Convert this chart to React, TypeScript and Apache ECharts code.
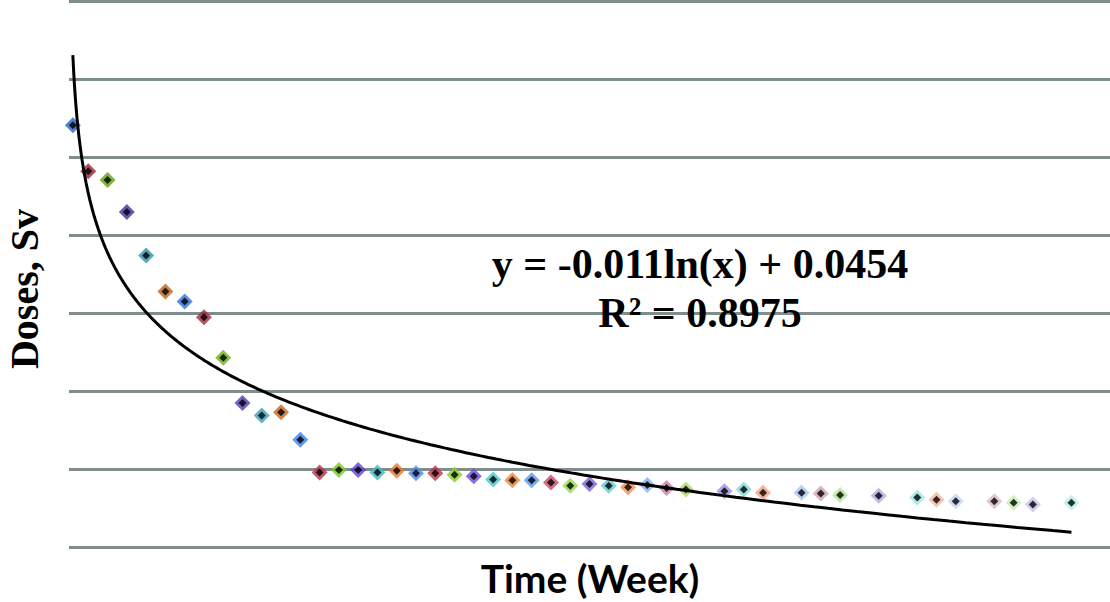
import React, { useEffect, useRef } from "react";
import * as echarts from "echarts";

// ---- Data ----
const weeks: number[] = [
  0.2, 1, 2, 3, 4, 5, 6, 7, 8, 9, 10, 11, 12,
  13, 14, 15, 16, 17, 18, 19, 20, 21, 22, 23, 24,
  25, 26, 27, 28, 29, 30, 31, 32,
  34, 35, 36, 38, 39, 40, 42, 44, 45, 46, 48, 49, 50, 52,
];
const doses: number[] = [
  0.0541, 0.0482, 0.0471, 0.043, 0.0374, 0.0328, 0.0315, 0.0295, 0.0243, 0.0185, 0.0169, 0.0173, 0.0138,
  0.0096, 0.0099, 0.0099, 0.0096, 0.0098, 0.0095, 0.0095, 0.0093, 0.0091, 0.0087, 0.0086, 0.0086,
  0.0083, 0.0079, 0.0081, 0.0079, 0.0077, 0.008, 0.0076, 0.0074,
  0.0072, 0.0074, 0.007, 0.007, 0.0069, 0.0067, 0.0066, 0.0064, 0.0061, 0.0059, 0.0059, 0.0057, 0.0055, 0.0057,
];
const trendSlope = -0.011;
const trendIntercept = 0.0454;
const rSquared = 0.8975;
const yMin = 0;
const yMax = 0.07;
const yStep = 0.01;
const xMin = 0;
const xMax = 54;
const xTitle = "Time (Week)";
const yTitle = "Doses, Sv";

// ---- Styles ----
const pointColors: string[] = [
  "#2e62c8", "#9b2335", "#5fa012", "#4530a0", "#2f95a8", "#c0601a",
  "#2f6fd8", "#a82840", "#6cb01a", "#5538b0", "#34a4b4", "#c8661c",
  "#3a80e8", "#b8304a", "#7cc82a", "#6040d0", "#40b8c4", "#e87828",
  "#4a88ec", "#c03048", "#84d02c", "#6c48dc", "#48c4cc", "#f08030",
  "#5a94f0", "#c84868", "#90d848", "#7c60e0", "#60ccd4", "#f08c50",
  "#84acec", "#c87c9c", "#a4dc68", "#9c8ce0", "#80d8dc", "#f4a084",
  "#a8c4f0", "#d0a0b8", "#b8e494", "#b0a8e4", "#a0e4e4", "#f4b4a0",
  "#c0d4f4", "#dcb8c8", "#c8ecb0", "#c4c0ec", "#b8ecec",
];
const gridColor = "#7f8d8d";
const serifBold = "bold 42px 'Liberation Serif', 'Times New Roman', serif";

export default function App() {
  const ref = useRef<HTMLDivElement>(null);
  useEffect(() => {
    if (!ref.current) return;
    const chart = echarts.init(ref.current, undefined, { renderer: "svg" });

    const wMin = Math.min(...weeks);
    const wMax = Math.max(...weeks);
    const trend: number[][] = [];
    const n = 300;
    for (let i = 0; i <= n; i++) {
      const x = wMin * Math.pow(wMax / wMin, i / n);
      trend.push([x, trendSlope * Math.log(x) + trendIntercept]);
    }

    const eq1 = `y = ${trendSlope}ln(x) + ${trendIntercept}`;
    const eq2 = `R² = ${rSquared}`;

    chart.setOption({
      animation: false,
      backgroundColor: "#ffffff",
      grid: { left: 69, right: 0, top: 1.3, bottom: 54.7, containLabel: false },
      xAxis: {
        type: "value",
        min: xMin,
        max: xMax,
        axisLine: { show: false },
        axisTick: { show: false },
        axisLabel: { show: false },
        splitLine: { show: false },
      },
      yAxis: {
        type: "value",
        min: yMin,
        max: yMax,
        interval: yStep,
        axisLine: { show: false },
        axisTick: { show: false },
        axisLabel: { show: false },
        splitLine: { show: true, lineStyle: { color: gridColor, width: 3 } },
      },
      series: [
        {
          type: "scatter",
          name: "outer",
          symbol: "diamond",
          symbolSize: 16,
          z: 2,
          silent: true,
          data: weeks.map((w, i) => ({
            value: [w, doses[i]],
            itemStyle: { color: pointColors[i % pointColors.length] },
          })),
        },
        {
          type: "scatter",
          name: "inner",
          symbol: "diamond",
          symbolSize: 8,
          z: 3,
          silent: true,
          itemStyle: { color: "#000000" },
          data: weeks.map((w, i) => [w, doses[i]]),
        },
        {
          type: "line",
          name: "trend",
          z: 5,
          silent: true,
          showSymbol: false,
          symbol: "none",
          lineStyle: { color: "#000000", width: 3 },
          data: trend,
        },
      ],
      graphic: [
        {
          type: "text",
          x: 700,
          y: 264,
          z: 10,
          style: {
            text: eq1,
            fill: "#000",
            font: serifBold,
            textAlign: "center",
            textVerticalAlign: "middle",
          },
        },
        {
          type: "text",
          x: 700,
          y: 313,
          z: 10,
          style: {
            text: eq2,
            fill: "#000",
            font: serifBold,
            textAlign: "center",
            textVerticalAlign: "middle",
          },
        },
        {
          type: "text",
          x: 24,
          y: 289,
          rotation: Math.PI / 2,
          z: 10,
          style: {
            text: yTitle,
            fill: "#000",
            font: "bold 40px 'Liberation Serif', 'Times New Roman', serif",
            textAlign: "center",
            textVerticalAlign: "middle",
          },
        },
        {
          type: "text",
          x: 590,
          y: 578,
          z: 10,
          style: {
            text: xTitle,
            fill: "#000",
            font: "bold 39px Lato, 'Open Sans', sans-serif",
            textAlign: "center",
            textVerticalAlign: "middle",
          },
        },
      ],
    });
    return () => chart.dispose();
  }, []);
  return (
    <div
      ref={ref}
      style={{ position: "absolute", left: 0, top: 0, width: 1110, height: 602 }}
    />
  );
}
